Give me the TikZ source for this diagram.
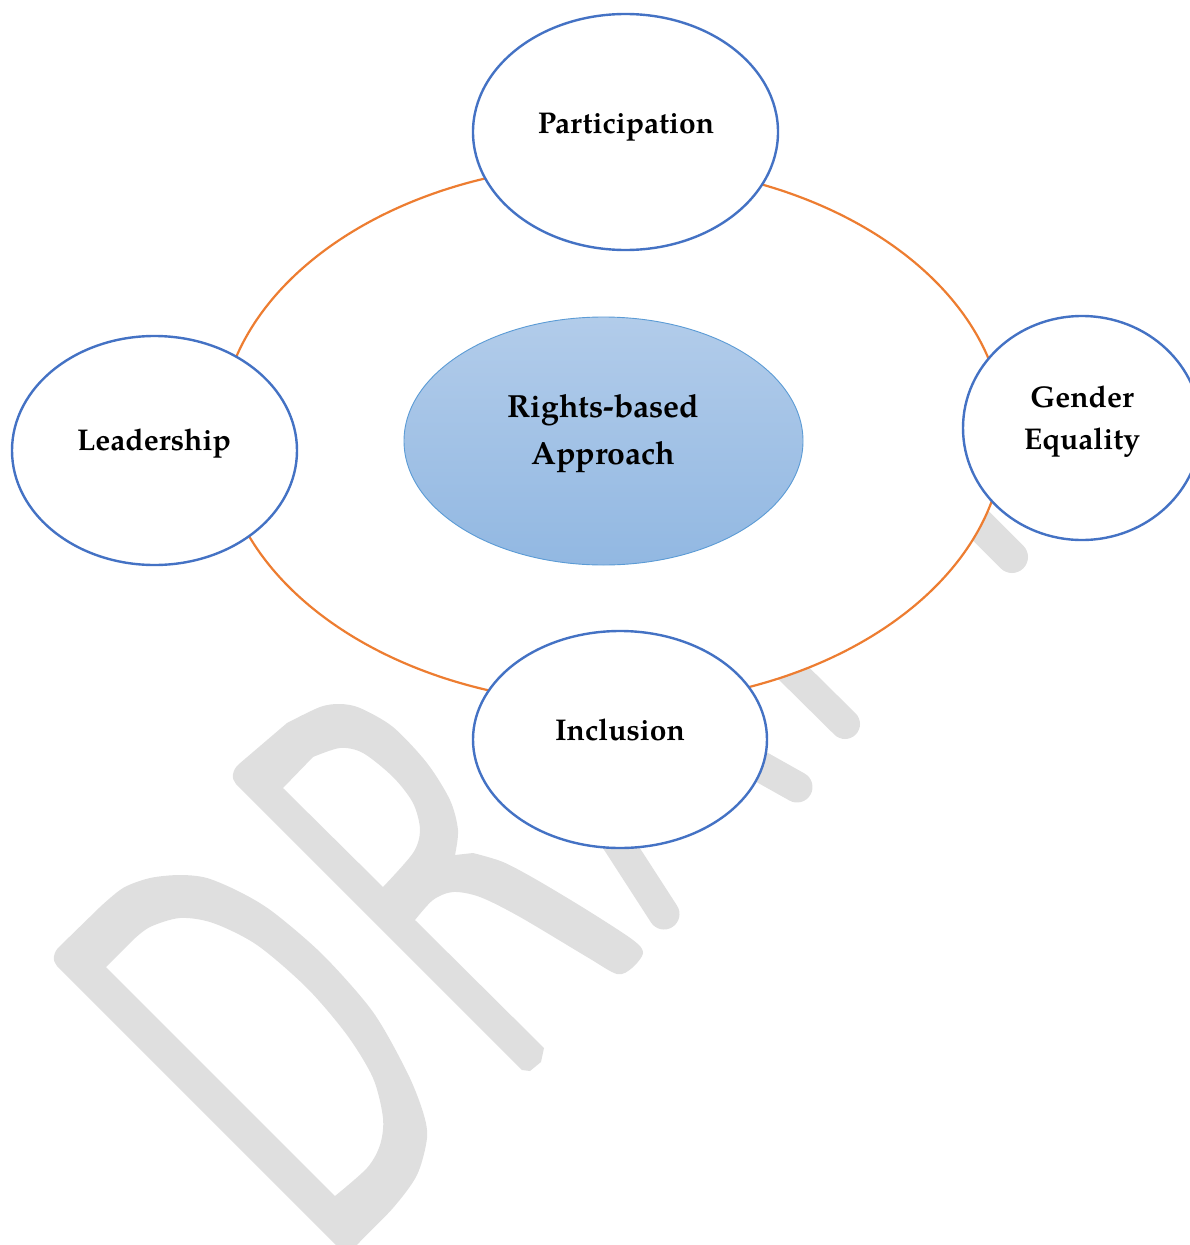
\documentclass[tikz,border=0pt]{standalone}
\usepackage{fontspec}
\setmainfont{TeX Gyre Pagella}
\usetikzlibrary{shapes.geometric}

\definecolor{ringorange}{RGB}{237,125,49}
\definecolor{bubbleblue}{RGB}{68,114,196}
\definecolor{coreedge}{RGB}{91,155,213}
\definecolor{coretop}{RGB}{178,204,234}
\definecolor{corebottom}{RGB}{146,184,226}
\definecolor{wmgray}{RGB}{223,223,223}

\tikzset{
  bubble/.style={ellipse, draw=bubbleblue, line width=2.4pt, fill=white,
                 inner sep=0pt, outer sep=0pt},
  lbl/.style={font=\fontsize{30}{42}\selectfont\bfseries, inner sep=0pt, anchor=base},
  corelbl/.style={font=\fontsize{32}{47}\selectfont\bfseries, inner sep=0pt, anchor=base},
  wmstroke/.style={draw=wmgray, line width=31pt, line cap=round},
}

\begin{document}
\begin{tikzpicture}[x=1pt,y=-1pt]
\useasboundingbox (0,0) rectangle (1190,1245);

% --- DRAFT watermark (behind everything) ---
% letter D
\fill[wmgray, even odd rule]
  (346,1255) -- (57,966) .. controls (52,961) and (53,952) .. (60,946)
  -- plot[smooth, tension=0.5] coordinates {(100,907) (123,888) (150,878) (180,875)
     (207,878) (240,892) (273,912) (323,955) (373,1012) (407,1072) (423,1112)
     (427,1138) (417,1175) (393,1208) (357,1245) (352,1256)}
  -- cycle
  (335,1196) -- (106,967)
  -- plot[smooth, tension=0.5] coordinates {(133,940) (150,927) (180,918)
     (213,923) (257,945) (307,988) (347,1035) (373,1078) (383,1118) (380,1145)
     (367,1168) (335,1196)}
  -- cycle;
% letter R
\fill[wmgray, even odd rule]
  (522,1070) -- (236,784) .. controls (231,779) and (232,770) .. (239,764)
  -- plot[smooth, tension=0.5] coordinates {(287,723) (320,707) (340,704) (360,708)
     (393,727) (427,763) (450,800) (458,830) (455,855)}
  -- plot[smooth, tension=0.5] coordinates {(473,853) (503,862) (537,880)
     (587,910) (633,940) (643,953) (632,968) (617,974) (587,957) (520,917)
     (480,897) (453,892) (433,900) (415,920)}
  -- (544,1048) -- (541,1062) -- (530,1071) -- cycle
  (283,788)
  -- plot[smooth, tension=0.5] coordinates {(313,757) (340,748) (363,753)
     (393,777) (413,803) (420,830) (413,853) (383,887)}
  -- cycle;
% remaining strokes, partly hidden by the shapes drawn above them
\coordinate (wa1) at (600,815);   \coordinate (wa2) at (664,914);
\coordinate (wb1) at (740,755);   \coordinate (wb2) at (797,787);
\coordinate (wc1) at (760,640);   \coordinate (wc2) at (845,724);
\coordinate (wd1) at (947,492);   \coordinate (wd2) at (1012,557);
\draw[wmstroke] (wa1) -- (wa2);
\draw[wmstroke] (wb1) -- (wb2);
\draw[wmstroke, line width=30pt] (wc1) -- (wc2);
\draw[wmstroke, line width=32pt] (wd1) -- (wd2);

% --- orange ring linking the four themes ---
\node[ellipse, draw=ringorange, line width=2.2pt, fill=white,
      minimum width=784pt, minimum height=540pt, inner sep=0pt] (ring) at (612,434) {};

% --- central concept ---
\node[ellipse, draw=coreedge, line width=0.9pt, top color=coretop, bottom color=corebottom,
      minimum width=399pt, minimum height=248pt, inner sep=0pt] (core) at (603.5,441) {};

% --- surrounding themes ---
\node[bubble, minimum width=305pt, minimum height=236pt] (part) at (625.5,132) {};
\node[bubble, minimum width=285pt, minimum height=229pt] (lead) at (154.5,450.5) {};
\node[bubble, minimum width=238pt, minimum height=224pt] (gend) at (1082,428) {};
\node[bubble, minimum width=294pt, minimum height=217pt] (incl) at (620,739.5) {};

% --- labels ---
\node[corelbl] (coreT) at (603.5,464) {\begin{tabular}[b]{@{}c@{}}Rights-based\\Approach\end{tabular}};
\node[lbl] (partT) at (626,133) {Participation};
\node[lbl] (leadT) at (154,450) {Leadership};
\node[lbl] (gendT) at (1082,449) {\begin{tabular}[b]{@{}c@{}}Gender\\Equality\end{tabular}};
\node[lbl] (inclT) at (620,740) {Inclusion};
\end{tikzpicture}
\end{document}
